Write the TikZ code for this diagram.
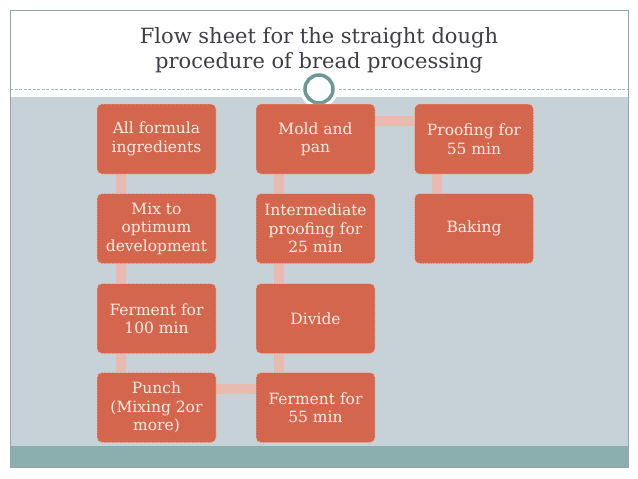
\documentclass[tikz,border=0pt]{standalone}
\usepackage{fontspec}
\setmainfont{DejaVu Serif}
\pgfdeclarelayer{bg}
\pgfdeclarelayer{conn}
\pgfsetlayers{bg,conn,main}
\definecolor{boxred}{RGB}{213,102,78}
\definecolor{boxtext}{RGB}{253,238,228}
\definecolor{boxedge}{RGB}{240,200,188}
\definecolor{connpink}{RGB}{232,186,176}
\definecolor{panelgray}{RGB}{198,210,215}
\definecolor{bandteal}{RGB}{139,174,175}
\definecolor{framegray}{RGB}{150,165,172}
\definecolor{dashgray}{RGB}{170,182,188}
\definecolor{titlegray}{RGB}{62,62,70}
\definecolor{ringteal}{RGB}{110,152,150}
\tikzset{
  stepbox/.style={rectangle, rounded corners=5pt, fill=boxred, draw=boxedge,
    densely dotted, line width=0.6pt, minimum width=119pt, minimum height=70pt,
    inner sep=2pt, text=boxtext, align=center,
    font=\fontsize{15.5}{18.5}\selectfont},
  conn/.style={draw=connpink, line width=10pt},
}
\begin{document}
\begin{tikzpicture}[x=1pt,y=-1pt]
\useasboundingbox (0,0) rectangle (638,479);
\begin{pgfonlayer}{bg}
  \fill[white] (0,0) rectangle (638,479);
  \fill[panelgray] (10,97) rectangle (628,446);
  \fill[bandteal] (10,446) rectangle (628,467);
  \draw[framegray, line width=0.8pt] (10,10) rectangle (628,467);
  \draw[dashgray, line width=0.6pt, dash pattern=on 3pt off 1.5pt] (10,89) -- (628,89);
  \fill[white] (319,89) circle (19);
  \draw[ringteal, line width=3.5pt] (319,89) circle (14);
\end{pgfonlayer}
\node[font=\fontsize{21}{25}\selectfont, text=titlegray, align=center] (title) at (319,50)
  {Flow sheet for the straight dough\\procedure of bread processing};
\node[stepbox] (all) at (156.5,139) {All formula\\ingredients};
\node[stepbox] (mix) at (156.5,228.5) {Mix to\\optimum\\development};
\node[stepbox] (f100) at (156.5,318.5) {Ferment for\\100 min};
\node[stepbox] (punch) at (156.5,407.5) {Punch\\(Mixing 2or\\more)};
\node[stepbox] (f55) at (315.5,407.5) {Ferment for\\55 min};
\node[stepbox] (divide) at (315.5,318.5) {Divide};
\node[stepbox] (inter) at (315.5,228.5) {Intermediate\\proofing for\\25 min};
\node[stepbox] (mold) at (315.5,139) {Mold and\\pan};
\node[stepbox] (proof) at (474,139) {Proofing for\\55 min};
\node[stepbox] (bake) at (474,228.5) {Baking};
\begin{pgfonlayer}{conn}
  \draw[conn] ([xshift=24pt]all.south west) -- ([xshift=24pt]mix.north west);
  \draw[conn] ([xshift=24pt]mix.south west) -- ([xshift=24pt]f100.north west);
  \draw[conn] ([xshift=24pt]f100.south west) -- ([xshift=24pt]punch.north west);
  \draw[conn] ([yshift=-17pt]punch.north east) -- ([yshift=-17pt]f55.north west);
  \draw[conn] ([xshift=23pt]f55.north west) -- ([xshift=23pt]divide.south west);
  \draw[conn] ([xshift=23pt]divide.north west) -- ([xshift=23pt]inter.south west);
  \draw[conn] ([xshift=23pt]inter.north west) -- ([xshift=23pt]mold.south west);
  \draw[conn] ([yshift=-17pt]mold.north east) -- ([yshift=-17pt]proof.north west);
  \draw[conn] ([xshift=23pt]proof.south west) -- ([xshift=23pt]bake.north west);
\end{pgfonlayer}
\end{tikzpicture}
\end{document}
